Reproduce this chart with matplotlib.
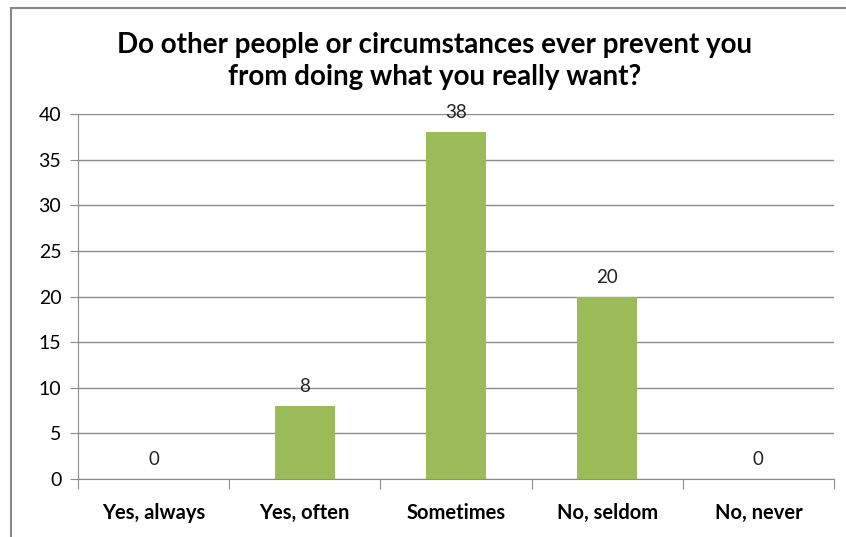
import matplotlib.pyplot as plt
from matplotlib.patches import Rectangle

categories = ["Yes, always", "Yes, often", "Sometimes", "No, seldom", "No, never"]
counts = [0, 8, 38, 20, 0]

plt.rcParams['font.family'] = ['Lato', 'DejaVu Sans']

fig = plt.figure(figsize=(8.46, 5.37), dpi=100)
ax = fig.add_axes([78 / 846, 1 - 479 / 537, (834 - 78) / 846, (479 - 114) / 537])

# outer chart border (left and top visible)
fig.patches.append(Rectangle((11 / 846, -0.05), 1.2, 1 - 8 / 537 + 0.05,
                             transform=fig.transFigure, fill=False,
                             edgecolor='#888888', linewidth=1.5))

x = list(range(len(categories)))
ax.bar(x, counts, width=0.4, color='#9BBB59', zorder=3)

for xi, v in zip(x, counts):
    ax.text(xi, v + 1.2, str(v), ha='center', va='bottom', fontsize=13.5, color='#222222')

ax.set_xlim(-0.5, 4.5)
ax.set_ylim(0, 40)
ax.set_yticks(range(0, 41, 5))
ax.set_yticklabels([str(t) for t in range(0, 41, 5)], fontsize=14)
ax.yaxis.grid(True, color='#8C8C8C', linewidth=1)
ax.set_axisbelow(True)

ax.set_xticks([i - 0.5 for i in range(6)])
ax.set_xticklabels([])
ax.set_xticks(x, minor=True)
ax.set_xticklabels(categories, minor=True, fontsize=14.5, fontweight='bold')
ax.tick_params(axis='x', which='minor', length=0, pad=17)
ax.tick_params(axis='x', which='major', length=7, color='#8C8C8C')
ax.tick_params(axis='y', length=6, color='#8C8C8C', pad=6)

for s in ['top', 'right']:
    ax.spines[s].set_visible(False)
for s in ['left', 'bottom']:
    ax.spines[s].set_color('#8C8C8C')

fig.text(435 / 846, 1 - 61 / 537,
         "Do other people or circumstances ever prevent you\nfrom doing what you really want?",
         ha='center', va='center', fontsize=20, fontweight='bold', linespacing=1.25)

fig.savefig("out.png", dpi=100)
